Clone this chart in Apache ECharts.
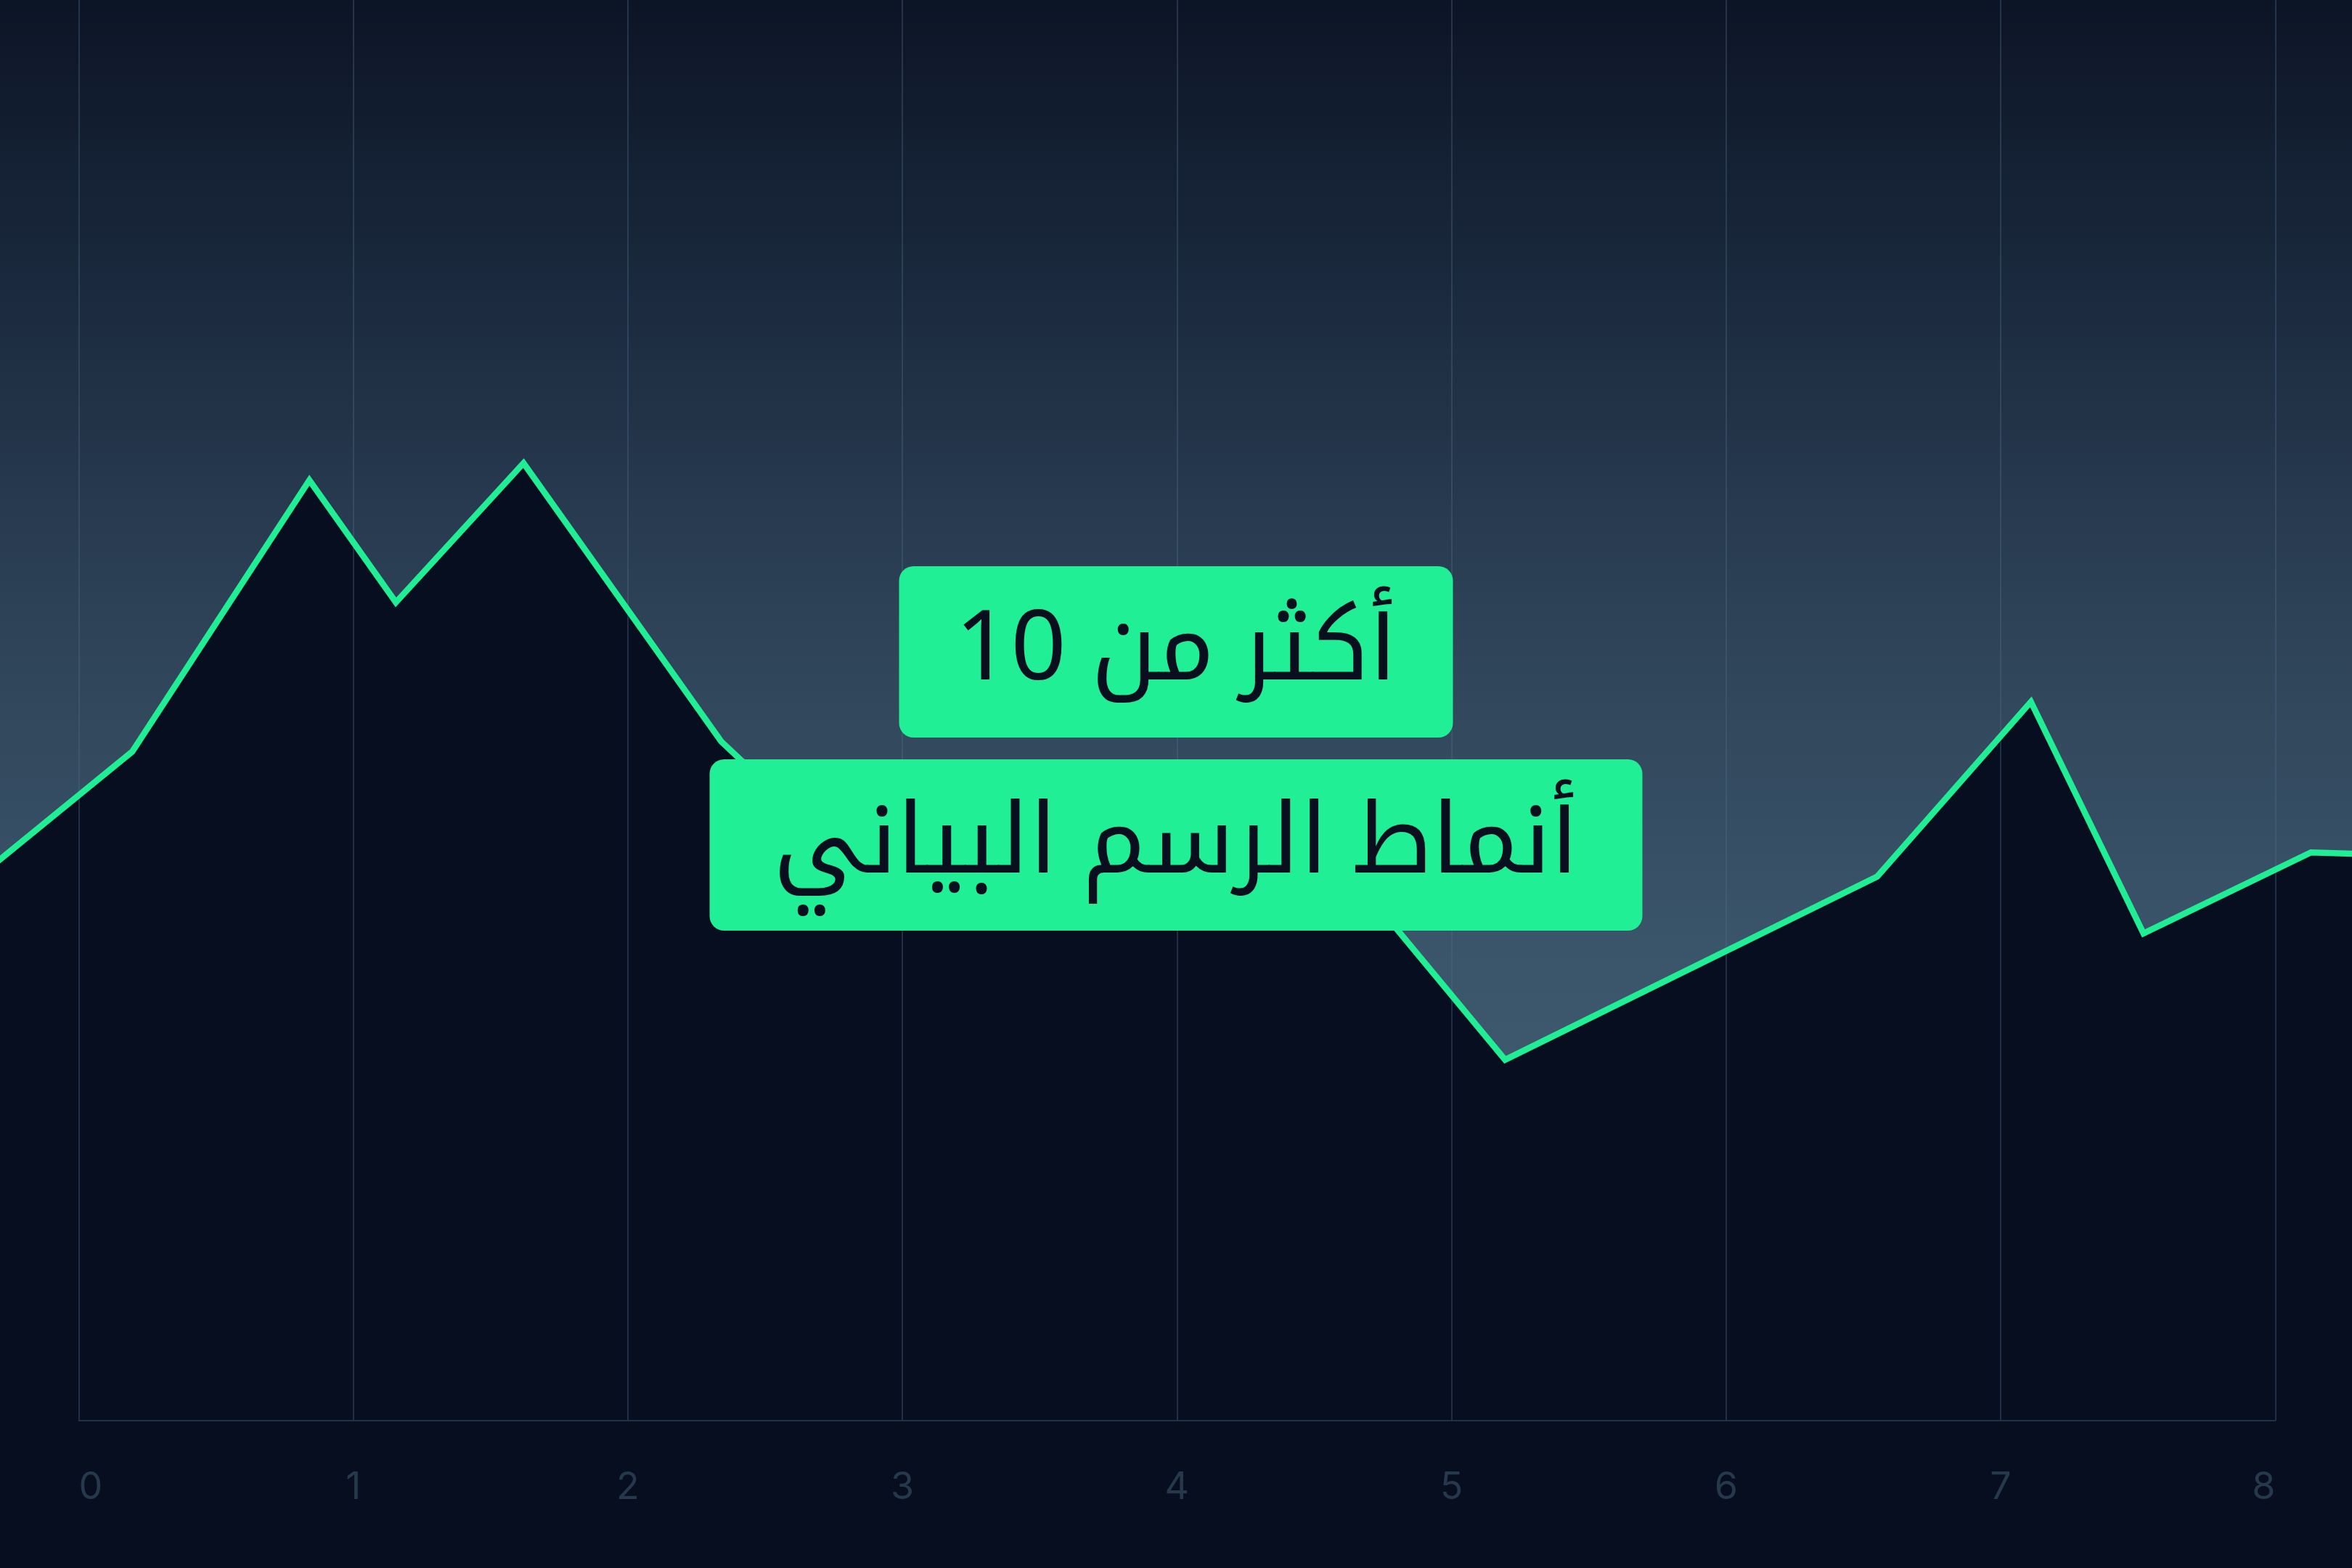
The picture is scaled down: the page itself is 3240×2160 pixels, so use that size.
<!DOCTYPE html>
<html>
<head>
<meta charset="utf-8">
<title>أنماط الرسم البياني</title>
<script src="https://cdn.jsdelivr.net/npm/echarts@6/dist/echarts.min.js"></script>
<style>
html, body { margin: 0; padding: 0; background: #070e1f; }
#chart { width: 3240px; height: 2160px; }
</style>
</head>
<body>
<div id="chart"></div>
<script>
// values (x on the 0..8 axis, y on a hidden 0..100 scale)
var xValues = [-0.35, 0.195, 0.84, 1.155, 1.62, 2.34, 2.77, 4.41, 5.195, 6.55, 7.11, 7.52, 8.13, 8.45];
var yValues = [38.5, 47.1, 66.2, 57.6, 67.4, 47.8, 40.0, 43.7, 25.4, 38.3, 50.6, 34.3, 40.0, 39.8];
var xTicks = [0, 1, 2, 3, 4, 5, 6, 7, 8];
var titleLine1 = 'أكثر من 10';
var titleLine2 = 'أنماط الرسم البياني';

var chart = echarts.init(document.getElementById('chart'));

var points = [];
for (var i = 0; i < xValues.length; i++) {
	points.push([xValues[i], yValues[i]]);
}

// the line runs off both sides of the plot, so it lives on a second
// full-width grid whose axis covers the same units
var gridLeft = 108.5, gridRight = 105.7, width = 3240;
var unit = (width - gridLeft - gridRight) / (xTicks.length - 1);
var fullMin = xTicks[0] - gridLeft / unit;
var fullMax = xTicks[xTicks.length - 1] + gridRight / unit;

var boxText = {
	color: '#0a0f1f',
	fontSize: 134,
	lineHeight: 160,
	fontWeight: 'normal',
	fontFamily: 'Noto Sans, Noto Kufi Arabic, DejaVu Sans, sans-serif'
};

var option = {
	backgroundColor: {
		type: 'linear', x: 0, y: 0, x2: 0, y2: 1,
		colorStops: [
			{ offset: 0, color: 'rgb(12,21,38)' },
			{ offset: 0.2, color: 'rgb(28,43,64)' },
			{ offset: 0.4, color: 'rgb(46,67,88)' },
			{ offset: 0.6, color: 'rgb(58,84,105)' },
			{ offset: 0.7, color: 'rgb(62,90,111)' },
			{ offset: 0.905, color: 'rgb(66,96,116)' },
			{ offset: 0.9055, color: '#070e1f' },
			{ offset: 1, color: '#070e1f' }
		]
	},
	animation: false,
	title: [{
		text: titleLine1,
		left: 'center',
		top: 780,
		padding: [38, 77],
		backgroundColor: '#20ef96',
		borderRadius: 20,
		textStyle: boxText
	}, {
		text: titleLine2,
		left: 'center',
		top: 1046,
		padding: [38, 88],
		backgroundColor: '#20ef96',
		borderRadius: 20,
		textStyle: boxText
	}],
	grid: [{
		left: gridLeft,
		right: gridRight,
		top: 0,
		bottom: 203,
		outerBoundsMode: 'none'
	}, {
		left: 0,
		right: 0,
		top: 0,
		bottom: 203,
		outerBoundsMode: 'none'
	}],
	xAxis: [{
		type: 'value',
		gridIndex: 0,
		min: xTicks[0],
		max: xTicks[xTicks.length - 1],
		interval: 1,
		z: 2,
		axisLine: { show: true, lineStyle: { color: '#1f3247', width: 2 } },
		axisTick: { show: false },
		splitLine: { show: true, lineStyle: { color: 'rgba(80,110,140,0.35)', width: 2 } },
		axisLabel: {
			color: '#26384c',
			fontSize: 52,
			margin: 66,
			fontFamily: 'Inter, Noto Sans, sans-serif',
			alignMinLabel: 'left',
			alignMaxLabel: 'right'
		}
	}, {
		type: 'value',
		gridIndex: 1,
		min: fullMin,
		max: fullMax,
		show: false
	}],
	yAxis: [{
		type: 'value',
		gridIndex: 0,
		min: 0,
		max: 100,
		show: false
	}, {
		type: 'value',
		gridIndex: 1,
		min: 0,
		max: 100,
		show: false
	}],
	series: [{
		// dark fill under the line, kept below the grid lines
		type: 'line',
		xAxisIndex: 1,
		yAxisIndex: 1,
		data: points,
		symbol: 'none',
		z: 1,
		lineStyle: { width: 0 },
		areaStyle: { color: '#070e1f', opacity: 1 }
	}, {
		type: 'line',
		xAxisIndex: 1,
		yAxisIndex: 1,
		data: points,
		symbol: 'none',
		z: 3,
		lineStyle: { color: '#1fee95', width: 8.5, join: 'miter' }
	}]
};

chart.setOption(option);
</script>
</body>
</html>
